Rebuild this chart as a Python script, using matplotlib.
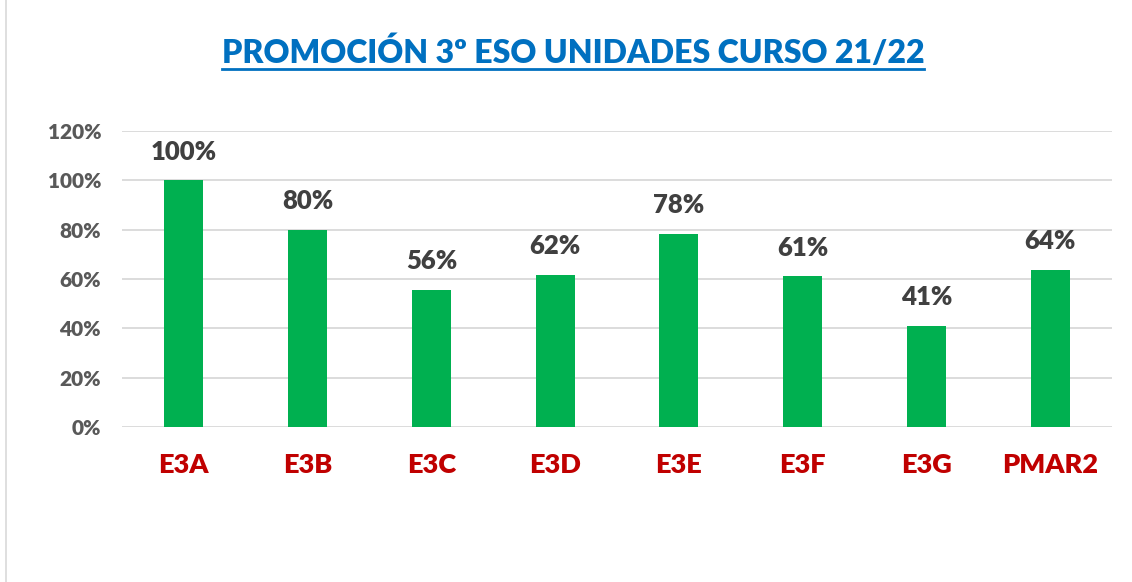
import matplotlib
matplotlib.use("Agg")
import matplotlib.pyplot as plt
from matplotlib.lines import Line2D
from matplotlib.patches import Rectangle
from matplotlib.ticker import FuncFormatter

# data
groups = ["E3A", "E3B", "E3C", "E3D", "E3E", "E3F", "E3G", "PMAR2"]
promotion = [1.00, 0.80, 0.556, 0.617, 0.782, 0.611, 0.41, 0.636]
y_ticks = [0.0, 0.2, 0.4, 0.6, 0.8, 1.0, 1.2]
title = "PROMOCIÓN 3º ESO UNIDADES CURSO 21/22"

FONT = ["Lato", "DejaVu Sans"]
plt.rcParams["font.family"] = FONT

fig = plt.figure(figsize=(11.32, 5.82), dpi=100)
ax = fig.add_axes([122 / 1132, 1 - 427 / 582, 990 / 1132, 296 / 582])

x = range(len(groups))
bars = ax.bar(x, promotion, width=0.315, color="#00B050", zorder=3)

for xi, v in zip(x, promotion):
    ax.text(xi, v + 0.068, f"{round(v * 100)}%", ha="center", va="bottom",
            fontsize=18.5, fontweight="heavy", color="#404040")

ax.set_xlim(-0.5, len(groups) - 0.5)
ax.set_ylim(0, 1.2)
ax.set_yticks(y_ticks)
ax.yaxis.set_major_formatter(FuncFormatter(lambda v, _: f"{v * 100:.0f}%"))
ax.set_xticks(list(x))
ax.set_xticklabels(groups)
ax.grid(axis="y", color="#D9D9D9", linewidth=1.3, zorder=0)
for s in ax.spines.values():
    s.set_visible(False)
ax.tick_params(axis="both", length=0)
ax.tick_params(axis="y", labelsize=15, labelcolor="#595959", pad=15)
ax.tick_params(axis="x", labelsize=19.5, labelcolor="#C00000", pad=19)
for lbl in ax.get_yticklabels():
    lbl.set_fontweight("heavy")
for lbl in ax.get_xticklabels():
    lbl.set_fontweight("heavy")

# title with underline
t = fig.text(573 / 1132, 1 - 52 / 582, title, ha="center", va="center",
             fontsize=23, fontweight="heavy", color="#0070C0")
fig.canvas.draw()
bb = t.get_window_extent(renderer=fig.canvas.get_renderer())
inv = fig.transFigure.inverted()
(x0, y0), (x1, _) = inv.transform([(bb.x0, bb.y0), (bb.x1, bb.y1)])
fig.add_artist(Line2D([x0, x1], [y0 - 0.002, y0 - 0.002], transform=fig.transFigure,
                      color="#0070C0", linewidth=2))

# chart border
fig.add_artist(Rectangle((6 / 1132, -0.01), 1.2, 1.2, transform=fig.transFigure,
                         fill=False, edgecolor="#D9D9D9", linewidth=1.2))

fig.savefig("out.png", dpi=100)
